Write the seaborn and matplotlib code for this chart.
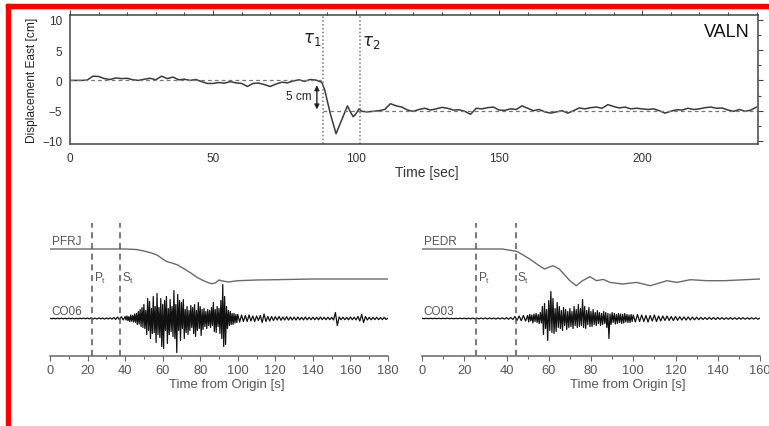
import numpy as np
import matplotlib
matplotlib.use("Agg")
import matplotlib.pyplot as plt
import seaborn as sns
from matplotlib.patches import Rectangle
from matplotlib.ticker import MultipleLocator

# ── top panel: VALN east displacement (cm) ─────────────────────────────────────
east_t = np.concatenate([np.arange(0, 89, 2),
                         [89, 91, 93, 95, 97, 98, 99, 100, 101],
                         np.arange(102, 241, 2)])
east_cm = [
    0.0, 0.0, 0.0, 0.05, 0.7, 0.65, 0.3, 0.15, 0.4, 0.3,
    0.35, 0.1, 0.0, 0.2, 0.35, 0.1, 0.7, 0.3, 0.55, 0.1,
    0.2, 0.0, 0.15, -0.2, -0.5, -0.5, -0.35, -0.45, -0.2, -0.4,
    -0.5, -1.0, -0.5, -0.45, -0.7, -1.0, -0.6, -0.3, -0.4, -0.1,
    0.1, -0.15, 0.15, 0.05, -0.3,
    -1.5, -5.5, -8.8, -6.5, -4.2, -5.2, -6.0, -5.5, -4.7,
    -5.1, -5.2, -5.1, -5.0, -4.8, -3.85, -4.2, -4.4, -4.9, -5.1,
    -4.8, -4.6, -4.9, -4.7, -4.45, -4.6, -4.9, -4.85, -5.1, -5.6,
    -4.6, -4.7, -4.5, -4.4, -4.9, -4.95, -4.7, -4.8, -4.2, -4.6,
    -5.0, -4.8, -5.2, -5.4, -5.2, -5.0, -5.4, -5.0, -4.55, -4.7,
    -4.5, -4.4, -4.6, -4.0, -4.3, -4.55, -4.4, -4.7, -4.6, -4.7,
    -4.8, -4.7, -5.0, -5.4, -5.1, -4.85, -4.9, -4.6, -4.8, -4.7,
    -4.5, -4.4, -4.6, -4.55, -4.9, -5.1, -4.8, -5.1, -4.9, -4.4,
]
tau1, tau2 = 88.5, 101.5
static_before, static_after = 0.0, -5.0

# ── bottom left: PFRJ displacement + CO06 accelerogram ───────────────────────
pfrj_t = [0, 40, 46, 50, 54, 57, 60, 62, 65, 68, 72, 75, 78, 81, 84, 86, 88,
          90, 92, 95, 100, 110, 120, 140, 160, 180]
pfrj_disp = [0, 0, -0.5, -2, -4, -6, -10, -12.5, -14, -16, -20.5, -24, -28,
             -31, -33.5, -34.7, -34, -31, -32, -33, -31.7, -31, -30.7, -30,
             -30, -30]
# 1 s samples before/after the strong shaking, 0.5 s samples during it
co06_t = np.concatenate([np.arange(0, 40, 1.0), np.arange(40, 100, 0.5),
                         np.arange(100, 181, 1.0)])
co06_acc = [
    # 0 - 39 s
    0.2, -0.2, 0.3, -0.3, 0.2, -0.2, 0.3, -0.2, 0.2, -0.3,
    0.3, -0.2, 0.3, -0.3, 0.2, -0.3, 0.3, -0.2, 0.4, -0.3,
    0.5, -0.4, 0.6, -0.5, 0.4, -0.5, 0.6, -0.4, 0.5, -0.6,
    0.6, -0.5, 0.7, -0.6, 1.0, -0.9, 1.5, -1.2, 1.8, -1.5,
    # 40 - 99.5 s
    2.0, -1.5, 2.5, -2.2, 1.8, -3.0, 3.5, -2.8, 3.0, -3.5,
    4.5, -3.8, 5.0, -6.0, 7.0, -5.5, 9.0, -8.0, 11.0, -9.0,
    14.0, -10.0, 8.0, -16.0, 20.0, -12.0, 17.0, -20.0, 10.0, -15.0,
    22.0, -14.0, 12.0, -24.0, 25.0, -16.0, 11.0, -19.0, 20.0, -28.0,
    14.0, -30.0, 18.0, -12.0, 22.0, -25.0, 10.0, -16.0, 19.0, -13.0,
    12.0, -18.0, 28.0, -20.0, 14.0, -34.0, 24.0, -12.0, 18.0, -22.0,
    16.0, -10.0, 19.0, -20.0, 9.0, -14.0, 12.0, -16.0, 8.0, -12.0,
    13.0, -9.0, 11.0, -15.0, 14.0, -18.0, 8.0, -12.0, 16.0, -10.0,
    12.0, -17.0, 9.0, -11.0, 10.0, -8.0, 7.0, -10.0, 9.0, -7.0,
    8.0, -9.0, 11.0, -7.0, 16.0, -13.0, 9.0, -14.0, 12.0, -8.0,
    10.0, -15.0, 18.0, -20.0, 34.0, -28.0, 22.0, -26.0, 12.0, -10.0,
    8.0, -7.0, 7.0, -6.0, 5.0, -6.0, 5.0, -4.5, 4.0, -4.0,
    # 100 - 180 s
    4.0, -3.5, 3.5, -3.0, 3.0, -3.0, 3.5, -2.5, 2.5, -3.0,
    2.5, -2.0, 3.0, -4.0, 4.5, -3.0, 2.0, -2.5, 2.0, -2.0,
    1.8, -1.5, 2.0, -1.8, 1.5, -1.5, 1.8, -1.6, 1.5, -1.4,
    1.4, -1.5, 1.5, -1.3, 1.2, -1.4, 1.5, -1.3, 1.2, -1.2,
    1.3, -1.2, 1.2, -1.3, 1.4, -1.1, 1.2, -1.2, 1.3, -1.2,
    1.2, -1.5, 6.0, -7.0, 1.5, -1.2, 1.3, -1.2, 1.1, -1.3,
    1.5, -1.2, 1.3, -1.4, 2.0, -2.5, 4.0, -4.0, 2.0, -1.5,
    1.2, -1.3, 1.2, -1.1, 1.3, -1.2, 1.0, -1.1, 1.2, -1.0,
    0.5,
]
left_p, left_s = 22.4, 37.3

# ── bottom right: PEDR displacement + CO03 accelerogram ──────────────────────
pedr_t = [0, 38, 45, 51, 55, 58, 62, 65, 70, 73, 76, 79.5, 82.6, 85.8, 89,
          95, 101.6, 108, 116, 120.6, 127, 135, 143, 150, 160]
pedr_disp = [0, 0, -2.4, -10, -16, -20, -16.7, -20, -31.7, -36.7, -31.7,
             -27.7, -31.7, -30.4, -33.4, -35, -33.4, -36.7, -31.7, -33.4,
             -30.7, -31.7, -31.7, -31, -30]
co03_t = np.concatenate([np.arange(0, 50, 1.0), np.arange(50, 100, 0.5),
                         np.arange(100, 161, 1.0)])
co03_acc = [
    # 0 - 49 s
    0.2, -0.2, 0.2, -0.2, 0.2, -0.2, 0.2, -0.2, 0.2, -0.2,
    0.2, -0.2, 0.3, -0.2, 0.2, -0.3, 0.2, -0.2, 0.3, -0.2,
    0.3, -0.3, 0.3, -0.3, 0.4, -0.3, 0.4, -0.4, 0.5, -0.4,
    0.5, -0.5, 0.6, -0.4, 0.5, -0.6, 0.6, -0.5, 0.7, -0.6,
    0.8, -0.7, 1.0, -1.0, 2.0, -1.8, 2.5, -2.2, 3.0, -2.5,
    # 50 - 99.5 s
    3.0, -3.5, 4.0, -2.5, 3.5, -4.5, 4.5, -3.0, 5.0, -4.0,
    4.0, -5.0, 6.0, -4.5, 12.0, -16.0, 15.0, -10.0, 9.0, -22.0,
    18.0, -12.0, 27.0, -14.0, 20.0, -15.0, 10.0, -13.0, 16.0, -9.0,
    12.0, -10.0, 8.0, -12.0, 11.0, -7.0, 9.0, -11.0, 7.0, -9.0,
    10.0, -8.0, 7.0, -10.0, 12.0, -7.0, 9.0, -9.0, 14.0, -8.0,
    10.0, -7.0, 19.0, -9.0, 12.0, -10.0, 8.0, -6.0, 11.0, -8.0,
    7.0, -8.0, 9.0, -6.0, 6.0, -7.0, 8.0, -5.0, 6.0, -7.0,
    5.0, -6.0, 7.0, -5.0, 6.0, -9.0, 5.0, -20.0, 4.5, -6.0,
    6.0, -4.0, 5.0, -5.5, 4.0, -5.0, 5.0, -4.0, 4.5, -5.0,
    4.0, -4.5, 5.0, -3.5, 4.0, -4.0, 3.5, -4.0, 4.0, -3.0,
    # 100 - 160 s
    3.5, -3.5, 4.0, -3.0, 3.5, -3.0, 3.0, -3.5, 3.0, -2.5,
    3.5, -3.0, 2.5, -2.5, 2.5, -2.0, 2.5, -2.0, 2.0, -2.0,
    2.0, -1.8, 1.8, -1.5, 1.5, -1.5, 1.6, -1.4, 1.4, -1.3,
    1.3, -1.2, 1.2, -1.0, 1.0, -1.0, 1.1, -0.9, 1.0, -1.0,
    1.0, -0.8, 0.9, -0.9, 0.8, -0.8, 0.9, -0.8, 0.8, -0.8,
    0.8, -0.7, 0.8, -0.7, 0.7, -0.7, 0.8, -0.6, 0.7, -0.7,
    0.5,
]
right_p, right_s = 25.6, 44.5

# ── style ──────────────────────────────────────────────────────────────────────
sns.set_style("white")
plt.rcParams["font.family"] = ["Liberation Sans", "DejaVu Sans"]
plt.rcParams["mathtext.fontset"] = "dejavusans"

AX_COL = "#444444"
W, H = 769, 427

fig = plt.figure(figsize=(W / 100, H / 100), dpi=100)


def px_axes(x0, y0, x1, y1):
    """Axes from pixel box (left, top, right, bottom) in image coordinates."""
    return fig.add_axes([x0 / W, (H - y1) / H, (x1 - x0) / W, (y1 - y0) / H])


# ══════════════════════════════════════════════════════════════════════════════
# TOP PANEL
# ══════════════════════════════════════════════════════════════════════════════
ax = px_axes(70, 16, 758, 145)
sns.lineplot(x=east_t, y=east_cm, ax=ax, color="#3a3a3a", lw=1.1,
             estimator=None, sort=False)
ax.plot([0, tau1], [static_before, static_before], ls=(0, (3, 2.5)),
        color="#777777", lw=0.9)
ax.plot([tau1, 240], [static_after, static_after], ls=(0, (3, 2.5)),
        color="#777777", lw=0.9)
for tau in (tau1, tau2):
    ax.axvline(tau, color="#777777", ls=(0, (1, 1.5)), lw=1.1)
ax.text(tau1 - 0.5, 7.0, r"$\tau_1$", ha="right", va="center", fontsize=12,
        color="#222222")
ax.text(tau2 + 0.5, 6.5, r"$\tau_2$", ha="left", va="center", fontsize=12,
        color="#222222")
ax.annotate("", xy=(86.3, -4.8), xytext=(86.3, -0.8),
            arrowprops=dict(arrowstyle="<|-|>", color="#222222", lw=1.0,
                            mutation_scale=7, shrinkA=0, shrinkB=0))
ax.text(84.3, -2.6, "5 cm", ha="right", va="center", fontsize=8.5,
        color="#222222")
ax.text(0.988, 0.87, "VALN", transform=ax.transAxes, ha="right", va="center",
        fontsize=13, color="#111111")

ax.set_xlim(0, 240.5)
ax.set_ylim(-10.5, 10.8)
ax.xaxis.set_major_locator(MultipleLocator(50))
ax.xaxis.set_minor_locator(MultipleLocator(10))
ax.yaxis.set_major_locator(MultipleLocator(5))
ax.yaxis.set_minor_locator(MultipleLocator(2.5))
ax.tick_params(which="both", direction="out", top=True, right=True,
               color=AX_COL, width=0.8, labelsize=8.5, labelcolor="#333333",
               pad=2)
ax.tick_params(which="major", length=3.5)
ax.tick_params(which="minor", length=2)
for sp in ax.spines.values():
    sp.set_color(AX_COL)
    sp.set_linewidth(1.1)
ax.set_ylabel("Displacement East [cm]", fontsize=8.6, color="#222222",
              labelpad=3)
ax.set_xlabel("")
ax.text(0.519, -0.217, "Time [sec]", transform=ax.transAxes, ha="center",
        va="center", fontsize=10, color="#333333")


# ══════════════════════════════════════════════════════════════════════════════
# BOTTOM PANELS
# ══════════════════════════════════════════════════════════════════════════════
def record_panel(box, t_disp, disp, disp_name, t_acc, acc, acc_name,
                 t_p, t_s, tmax, label_x, p_lab, s_lab):
    bx = px_axes(*box)
    disp_base, acc_base = 107.0, 37.5
    sns.lineplot(x=t_disp, y=np.asarray(disp) + disp_base, ax=bx,
                 color="#6a6a6a", lw=1.0, estimator=None, sort=False)
    sns.lineplot(x=t_acc, y=np.asarray(acc) + acc_base, ax=bx,
                 color="#111111", lw=0.9, estimator=None, sort=False)
    bx.vlines([t_p, t_s], 0, 133, colors="#555555", linestyles=(0, (4, 3)),
              lw=1.1)
    bx.text(0.8, disp_base + 1.5, disp_name, ha="left", va="bottom",
            fontsize=8.5, color="#555555")
    bx.text(0.8, acc_base + 1.0, acc_name, ha="left", va="bottom",
            fontsize=8.5, color="#555555")
    bx.text(p_lab, 79, r"P$_\mathregular{t}$", ha="left", va="center",
            fontsize=8.5, color="#555555")
    bx.text(s_lab, 79, r"S$_\mathregular{t}$", ha="left", va="center",
            fontsize=8.5, color="#555555")

    bx.set_xlim(0, tmax)
    bx.set_ylim(0, 136)
    bx.xaxis.set_major_locator(MultipleLocator(20))
    bx.xaxis.set_minor_locator(MultipleLocator(10))
    bx.set_yticks([])
    for name, sp in bx.spines.items():
        sp.set_visible(name == "bottom")
    bx.spines["bottom"].set_color("#666666")
    bx.spines["bottom"].set_linewidth(1.1)
    bx.tick_params(axis="x", which="both", direction="out", bottom=True,
                   color="#666666", width=0.8, labelsize=9.3,
                   labelcolor="#555555", pad=2.5)
    bx.tick_params(axis="x", which="major", length=3.5)
    bx.tick_params(axis="x", which="minor", length=2)
    bx.set_xlabel("")
    bx.set_ylabel("")
    bx.text(label_x, -0.206, "Time from Origin [s]", transform=bx.transAxes,
            ha="center", va="center", fontsize=9.5, color="#555555")
    bx.patch.set_alpha(0)
    return bx


record_panel((50, 221, 388, 357), pfrj_t, pfrj_disp, "PFRJ",
             co06_t, co06_acc, "CO06", left_p, left_s, 180, 0.524, 23.4, 38.3)
record_panel((422, 221, 760, 357), pedr_t, pedr_disp, "PEDR",
             co03_t, co03_acc, "CO03", right_p, right_s, 160, 0.609, 26.5, 45.0)

# ── red frame (top and left edges) ─────────────────────────────────────────────
fig.patches.append(Rectangle((6 / W, (H - 9) / H), 1 - 6 / W, 4 / H,
                             transform=fig.transFigure, color="#ff0000",
                             zorder=10))
fig.patches.append(Rectangle((6 / W, 0), 4 / W, (H - 5) / H,
                             transform=fig.transFigure, color="#ff0000",
                             zorder=10))

fig.savefig("out.png", dpi=100)
